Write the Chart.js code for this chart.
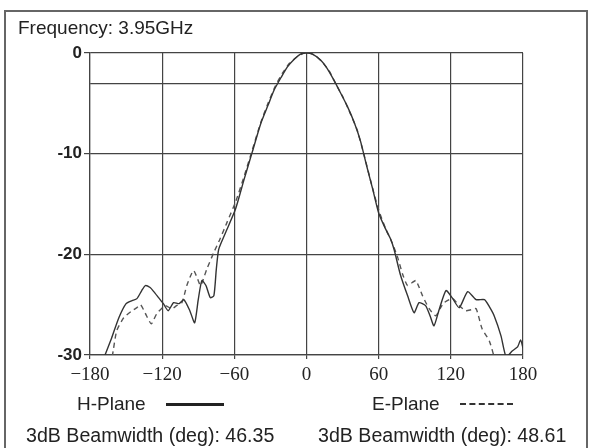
<!DOCTYPE html>
<html>
<head>
<meta charset="utf-8">
<script src="https://cdn.jsdelivr.net/npm/chart.js@4/dist/chart.umd.min.js"></script>
<style>
    body { margin: 0; background: #fff; }
    #wrap { position: relative; width: 590px; height: 448px; overflow: hidden; }
    #frame { position: absolute; left: 4px; top: 10px; width: 580px; height: 460px; border: 2px solid #666; }
    .txt { position: absolute; font-family: "Liberation Sans", Arial, sans-serif; font-size: 19px; line-height: 22px; color: #222; white-space: nowrap; }
    .bw { font-size: 19.6px; }
    .sample { position: absolute; height: 0; }
</style>
</head>
<body>
<div id="wrap">
    <div id="frame"></div>
    <canvas id="chart" width="590" height="448" style="position:absolute;left:0;top:0"></canvas>
    <div class="txt" style="left:18px;top:17px">Frequency: 3.95GHz</div>
    <div class="txt" style="left:77px;top:393px">H-Plane</div>
    <div class="sample" style="left:166px;top:403px;width:58px;border-top:3px solid #222"></div>
    <div class="txt" style="left:372px;top:393px">E-Plane</div>
    <div class="sample" style="left:460px;top:403px;width:53px;border-top:2px dashed #333"></div>
    <div class="txt bw" style="left:26px;top:424px">3dB Beamwidth (deg): 46.35</div>
    <div class="txt bw" style="left:318px;top:424px">3dB Beamwidth (deg): 48.61</div>
</div>
<script>
// H-Plane (solid)
const hAngles = [-180, -167.5, -162, -156, -150, -145, -141, -137, -134, -130, -127, -123, -119, -115, -110.5, -106, -102, -97, -93, -90, -87, -83.6, -80, -77, -75, -73,
    -67.5, -59, -52, -45, -38, -32, -27, -21, -16, -10, -5, 0, 5, 11.7, 17, 22.8, 28, 34, 40, 45, 50, 55, 60, 65, 70, 73,
    78, 84, 89.4, 93.6, 99, 103, 106, 110, 116, 121, 127, 134, 141, 148, 152, 156, 161.7, 166, 171, 175.5, 178, 180];
const hValues = [-34, -30, -28.3, -26.3, -24.9, -24.6, -24.4, -23.6, -23.1, -23.3, -23.7, -24.3, -24.9, -25.6, -24.8, -24.9, -24.5, -25.6, -26.8, -24.5, -22.6, -23.1, -24.3, -24.1, -21.5, -19.5,
    -17.9, -15.5, -12.6, -9.8, -7, -5.2, -3.7, -2.4, -1.4, -0.6, -0.1, 0, -0.1, -0.7, -1.5, -2.7, -3.9, -5.3, -7, -8.8, -11.2, -13.5, -15.9, -17.3, -18.5, -19.6,
    -22, -24.1, -25.8, -24.8, -25.1, -26.2, -27.1, -25.6, -23.6, -24.3, -25.3, -23.7, -24.5, -24.5, -25.2, -26.1, -28.1, -30.2, -29.6, -29.2, -28.5, -29.3];

// E-Plane (dashed)
const eAngles = [-180, -163, -160.5, -157.8, -152, -145, -141, -138, -133, -129, -124.5, -117.5, -112, -108, -103.6, -99.5, -94, -91, -88, -83, -77, -72,
    -66, -59, -52, -45, -38, -32, -26, -20, -14, -8, -3, 2, 8, 13, 19, 24, 30, 36, 42, 48, 54, 60, 66, 71,
    75.5, 80, 84, 88, 91, 96.4, 102, 107.5, 111, 114.4, 121.4, 127, 132.5, 137, 141, 146, 152, 156, 162, 180];
const eValues = [-35, -31, -29.4, -27.6, -26.3, -25.6, -25.3, -25, -26.1, -26.9, -25.9, -25.1, -25.4, -25.1, -24.8, -23.1, -21.6, -22.3, -23.1, -21.5, -19.8, -18.5,
    -16.8, -14.8, -12.3, -9.6, -6.9, -5, -3.3, -2, -1, -0.4, -0.05, 0, -0.3, -0.9, -1.8, -3, -4.3, -5.9, -7.6, -10.2, -13, -15.6, -17.5, -18.8,
    -20.2, -22, -23.1, -22.8, -22.6, -24.1, -25.4, -26.1, -25.4, -24.8, -24.4, -25.1, -25.6, -25.5, -25.4, -27.4, -28.6, -30.2, -33, -36];

const xTicks = [-180, -120, -60, 0, 60, 120, 180];
const yTicks = [-30, -20, -10, -3, 0];

const gridColor = '#444';

new Chart(document.getElementById('chart').getContext('2d'), {
    type: 'scatter',
    data: {
        datasets: [{
            label: 'H-Plane',
            data: hAngles.map((a, i) => ({x: a, y: hValues[i]})),
            showLine: true,
            borderColor: '#333',
            borderWidth: 1.4,
            pointRadius: 0,
            tension: 0.2
        }, {
            label: 'E-Plane',
            data: eAngles.map((a, i) => ({x: a, y: eValues[i]})),
            showLine: true,
            borderColor: '#555',
            borderWidth: 1.4,
            borderDash: [5, 4],
            pointRadius: 0,
            tension: 0.2
        }]
    },
    options: {
        responsive: false,
        animation: false,
        layout: { padding: { left: 0, right: 67, top: 53, bottom: 63 } },
        plugins: { legend: { display: false }, tooltip: { enabled: false } },
        scales: {
            x: {
                type: 'linear',
                min: -180,
                max: 180,
                afterBuildTicks: s => { s.ticks = xTicks.map(v => ({value: v})); },
                afterFit: s => { s.height = 30; },
                ticks: {
                    padding: 5,
                    color: '#222',
                    font: { family: '"Liberation Serif", "Times New Roman", serif', size: 19 },
                    callback: v => (v < 0 ? '\u2212' + Math.abs(v) : '' + v)
                },
                grid: { color: gridColor, lineWidth: 1.2, tickLength: 4 },
                border: { color: gridColor, width: 1.2 }
            },
            y: {
                min: -30,
                max: 0,
                afterBuildTicks: s => { s.ticks = yTicks.map(v => ({value: v})); },
                afterFit: s => { s.width = 90; },
                ticks: {
                    padding: 2,
                    color: '#222',
                    font: { family: '"Liberation Sans", Arial, sans-serif', size: 17, weight: 'bold' },
                    callback: v => (v === -3 ? '' : '' + v)
                },
                grid: {
                    color: gridColor,
                    lineWidth: 1.2,
                    tickLength: 6,
                    tickColor: c => (c.tick && c.tick.value === -3 ? 'rgba(0,0,0,0)' : gridColor)
                },
                border: { color: gridColor, width: 1.2 }
            }
        }
    }
});
</script>
</body>
</html>
